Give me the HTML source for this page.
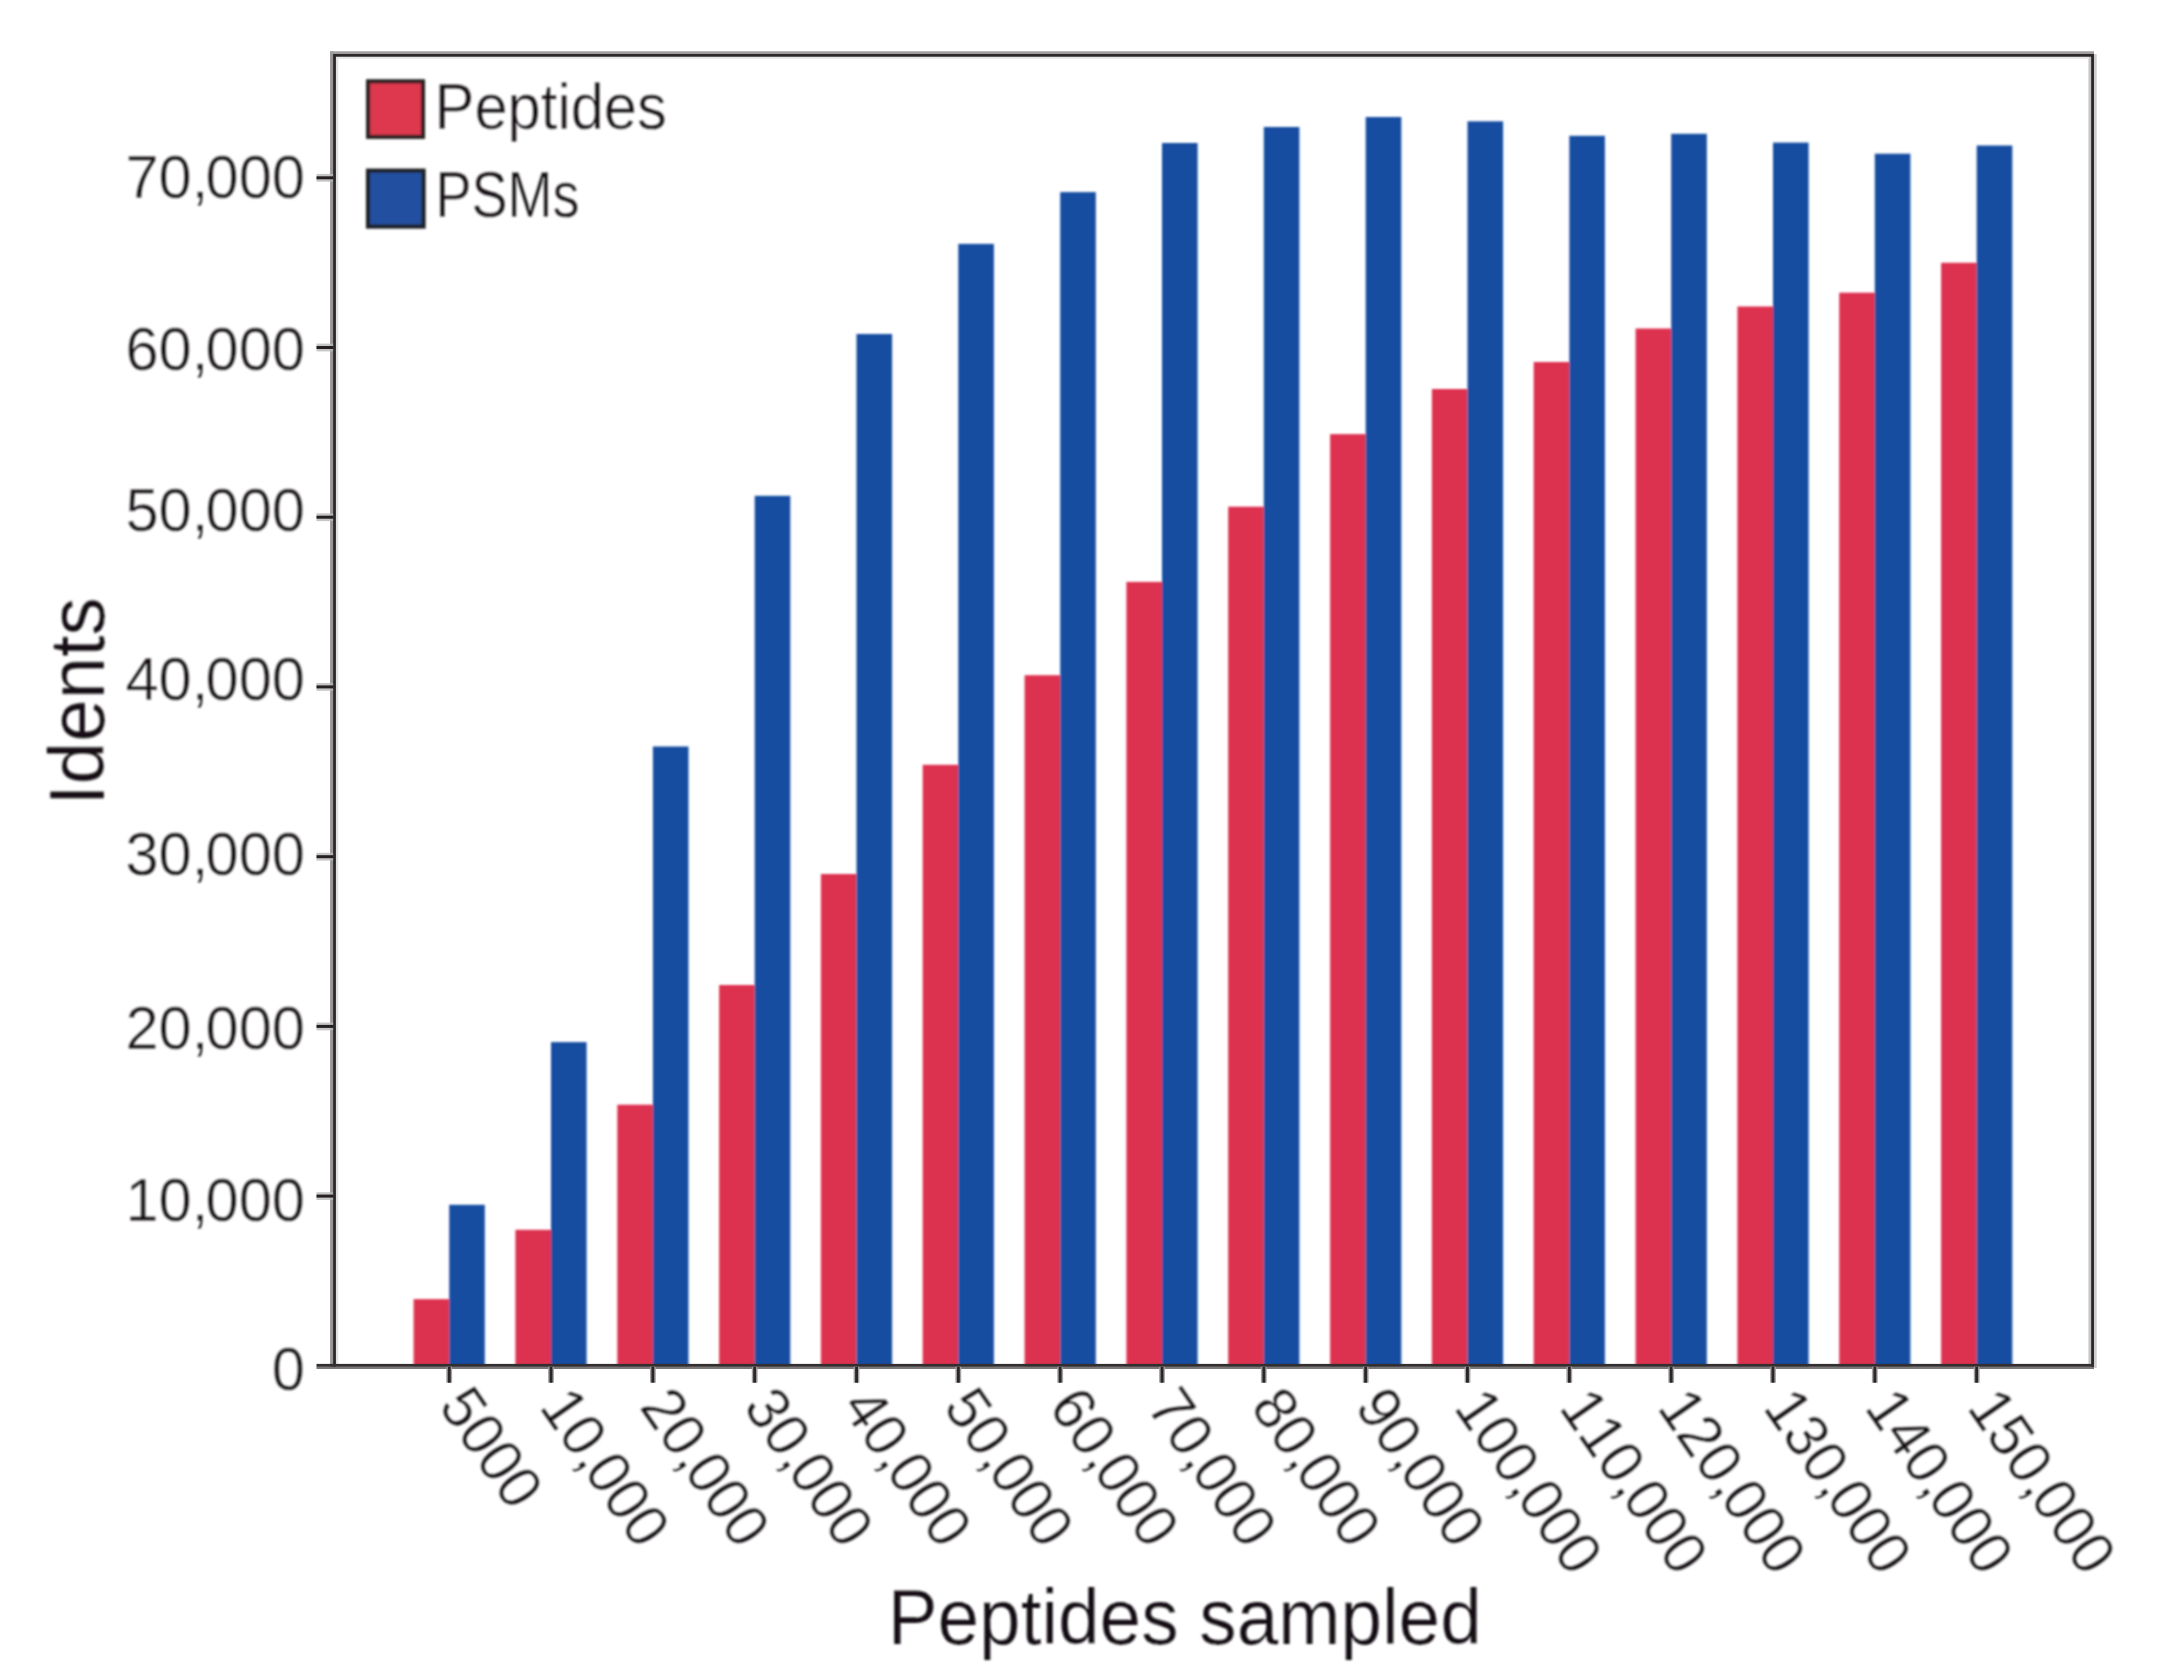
<!DOCTYPE html>
<html><head><meta charset="utf-8"><title>Peptides sampled</title>
<style>
html,body{margin:0;padding:0;background:#fff;}
svg{display:block;}
text{font-family:"Liberation Sans",sans-serif;fill:#151112;font-kerning:none;}
.t{stroke:#fff;stroke-width:0.4px;}
.u{stroke:#fff;stroke-width:0.2px;}
</style></head><body>
<svg width="2182" height="1676" viewBox="0 0 2182 1676">
<defs>
<filter id="soft" filterUnits="userSpaceOnUse" x="0" y="0" width="2182" height="1676"><feGaussianBlur stdDeviation="0.9"/></filter>
</defs>
<rect width="2182" height="1676" fill="#fff"/>
<g id="bars" filter="url(#soft)">
<rect x="413.6" y="1299.1" width="35.6" height="66.9" fill="#dd334f"/>
<rect x="449.2" y="1204.8" width="35.6" height="161.2" fill="#174ea1"/>
<rect x="515.4" y="1229.8" width="35.6" height="136.2" fill="#dd334f"/>
<rect x="551.0" y="1042.1" width="35.6" height="323.9" fill="#174ea1"/>
<rect x="617.3" y="1104.7" width="35.6" height="261.3" fill="#dd334f"/>
<rect x="652.9" y="746.5" width="35.6" height="619.5" fill="#174ea1"/>
<rect x="719.1" y="985.0" width="35.6" height="381.0" fill="#dd334f"/>
<rect x="754.7" y="495.8" width="35.6" height="870.2" fill="#174ea1"/>
<rect x="820.9" y="874.0" width="35.6" height="492.0" fill="#dd334f"/>
<rect x="856.5" y="334.0" width="35.6" height="1032.0" fill="#174ea1"/>
<rect x="922.7" y="764.8" width="35.6" height="601.2" fill="#dd334f"/>
<rect x="958.3" y="243.9" width="35.6" height="1122.1" fill="#174ea1"/>
<rect x="1024.6" y="675.2" width="35.6" height="690.8" fill="#dd334f"/>
<rect x="1060.2" y="192.1" width="35.6" height="1173.9" fill="#174ea1"/>
<rect x="1126.4" y="581.9" width="35.6" height="784.1" fill="#dd334f"/>
<rect x="1162.0" y="143.0" width="35.6" height="1223.0" fill="#174ea1"/>
<rect x="1228.2" y="506.7" width="35.6" height="859.3" fill="#dd334f"/>
<rect x="1263.8" y="127.0" width="35.6" height="1239.0" fill="#174ea1"/>
<rect x="1330.1" y="434.1" width="35.6" height="931.9" fill="#dd334f"/>
<rect x="1365.7" y="117.0" width="35.6" height="1249.0" fill="#174ea1"/>
<rect x="1431.9" y="389.0" width="35.6" height="977.0" fill="#dd334f"/>
<rect x="1467.5" y="121.3" width="35.6" height="1244.7" fill="#174ea1"/>
<rect x="1533.7" y="362.0" width="35.6" height="1004.0" fill="#dd334f"/>
<rect x="1569.3" y="135.8" width="35.6" height="1230.2" fill="#174ea1"/>
<rect x="1635.6" y="328.5" width="35.6" height="1037.5" fill="#dd334f"/>
<rect x="1671.2" y="133.8" width="35.6" height="1232.2" fill="#174ea1"/>
<rect x="1737.4" y="306.5" width="35.6" height="1059.5" fill="#dd334f"/>
<rect x="1773.0" y="142.6" width="35.6" height="1223.4" fill="#174ea1"/>
<rect x="1839.2" y="292.7" width="35.6" height="1073.3" fill="#dd334f"/>
<rect x="1874.8" y="153.7" width="35.6" height="1212.3" fill="#174ea1"/>
<rect x="1941.1" y="262.8" width="35.6" height="1103.2" fill="#dd334f"/>
<rect x="1976.7" y="145.5" width="35.6" height="1220.5" fill="#174ea1"/>
<rect x="368.1" y="81.3" width="54.9" height="55.6" fill="#dd394e" stroke="#2a2224" stroke-width="4.1"/>
<rect x="368" y="170.6" width="55.6" height="56" fill="#23509f" stroke="#1f2026" stroke-width="4.1"/>
</g>
<g id="axes">
<rect x="330.1" y="51.3" width="3.0" height="1317.6" fill="#969494"/>
<rect x="330.1" y="51.3" width="1763.9" height="2.7" fill="#9f9d9d"/>
<rect x="316.5" y="1366.8" width="1777.5" height="2.2" fill="#7a7877"/>
<rect x="2088.5" y="56.6" width="2.6" height="1307.3" fill="#c4c4c4"/>
<rect x="2094" y="54" width="2.7" height="1314" fill="#cfcdce"/>
<rect x="335.85" y="56.6" width="2.4" height="1307.3" fill="#e2e2e2"/>
<rect x="335.85" y="56.6" width="1752.6" height="2.4" fill="#e8e8e8"/>
<path d="M334.5 1366.8 V55.3 H2092.55 V1366.8" fill="none" stroke="#2b2728" stroke-width="2.85" stroke-linejoin="miter"/>
<rect x="316.5" y="1363.9" width="1777.5" height="2.9" fill="#332f30"/>
<rect x="316.5" y="1192.2" width="16.6" height="7.8" fill="#b9b8b8" opacity="0.8"/>
<rect x="316.5" y="1194.6" width="17" height="3.0" fill="#242021"/>
<rect x="316.5" y="1022.5" width="16.6" height="7.8" fill="#b9b8b8" opacity="0.8"/>
<rect x="316.5" y="1024.9" width="17" height="3.0" fill="#242021"/>
<rect x="316.5" y="852.8" width="16.6" height="7.8" fill="#b9b8b8" opacity="0.8"/>
<rect x="316.5" y="855.2" width="17" height="3.0" fill="#242021"/>
<rect x="316.5" y="683.0" width="16.6" height="7.8" fill="#b9b8b8" opacity="0.8"/>
<rect x="316.5" y="685.4" width="17" height="3.0" fill="#242021"/>
<rect x="316.5" y="513.3" width="16.6" height="7.8" fill="#b9b8b8" opacity="0.8"/>
<rect x="316.5" y="515.7" width="17" height="3.0" fill="#242021"/>
<rect x="316.5" y="343.6" width="16.6" height="7.8" fill="#b9b8b8" opacity="0.8"/>
<rect x="316.5" y="346.0" width="17" height="3.0" fill="#242021"/>
<rect x="316.5" y="173.9" width="16.6" height="7.8" fill="#b9b8b8" opacity="0.8"/>
<rect x="316.5" y="176.3" width="17" height="3.0" fill="#242021"/>
<rect x="446.3" y="1366.8" width="5.8" height="15.9" fill="#a3a1a1"/>
<rect x="447.8" y="1366.8" width="2.9" height="15.9" fill="#2a2627"/>
<rect x="548.1" y="1366.8" width="5.8" height="15.9" fill="#a3a1a1"/>
<rect x="549.6" y="1366.8" width="2.9" height="15.9" fill="#2a2627"/>
<rect x="650.0" y="1366.8" width="5.8" height="15.9" fill="#a3a1a1"/>
<rect x="651.4" y="1366.8" width="2.9" height="15.9" fill="#2a2627"/>
<rect x="751.8" y="1366.8" width="5.8" height="15.9" fill="#a3a1a1"/>
<rect x="753.2" y="1366.8" width="2.9" height="15.9" fill="#2a2627"/>
<rect x="853.6" y="1366.8" width="5.8" height="15.9" fill="#a3a1a1"/>
<rect x="855.1" y="1366.8" width="2.9" height="15.9" fill="#2a2627"/>
<rect x="955.4" y="1366.8" width="5.8" height="15.9" fill="#a3a1a1"/>
<rect x="956.9" y="1366.8" width="2.9" height="15.9" fill="#2a2627"/>
<rect x="1057.3" y="1366.8" width="5.8" height="15.9" fill="#a3a1a1"/>
<rect x="1058.7" y="1366.8" width="2.9" height="15.9" fill="#2a2627"/>
<rect x="1159.1" y="1366.8" width="5.8" height="15.9" fill="#a3a1a1"/>
<rect x="1160.6" y="1366.8" width="2.9" height="15.9" fill="#2a2627"/>
<rect x="1260.9" y="1366.8" width="5.8" height="15.9" fill="#a3a1a1"/>
<rect x="1262.4" y="1366.8" width="2.9" height="15.9" fill="#2a2627"/>
<rect x="1362.8" y="1366.8" width="5.8" height="15.9" fill="#a3a1a1"/>
<rect x="1364.2" y="1366.8" width="2.9" height="15.9" fill="#2a2627"/>
<rect x="1464.6" y="1366.8" width="5.8" height="15.9" fill="#a3a1a1"/>
<rect x="1466.0" y="1366.8" width="2.9" height="15.9" fill="#2a2627"/>
<rect x="1566.4" y="1366.8" width="5.8" height="15.9" fill="#a3a1a1"/>
<rect x="1567.9" y="1366.8" width="2.9" height="15.9" fill="#2a2627"/>
<rect x="1668.3" y="1366.8" width="5.8" height="15.9" fill="#a3a1a1"/>
<rect x="1669.7" y="1366.8" width="2.9" height="15.9" fill="#2a2627"/>
<rect x="1770.1" y="1366.8" width="5.8" height="15.9" fill="#a3a1a1"/>
<rect x="1771.5" y="1366.8" width="2.9" height="15.9" fill="#2a2627"/>
<rect x="1871.9" y="1366.8" width="5.8" height="15.9" fill="#a3a1a1"/>
<rect x="1873.4" y="1366.8" width="2.9" height="15.9" fill="#2a2627"/>
<rect x="1973.8" y="1366.8" width="5.8" height="15.9" fill="#a3a1a1"/>
<rect x="1975.2" y="1366.8" width="2.9" height="15.9" fill="#2a2627"/>
</g>
<g id="labels" filter="url(#soft)">
<text class="t" transform="translate(305 1389.7) scale(0.978 1)" font-size="61" text-anchor="end">0</text>
<text class="t" transform="translate(305 1221.3) scale(0.978 1)" font-size="61" text-anchor="end" dx="0 0 0 -3 0 0">10,000</text>
<text class="t" transform="translate(305 1048.9) scale(0.978 1)" font-size="61" text-anchor="end" dx="0 0 0 -3 0 0">20,000</text>
<text class="t" transform="translate(305 874.7) scale(0.978 1)" font-size="61" text-anchor="end" dx="0 0 0 -3 0 0">30,000</text>
<text class="t" transform="translate(305 700.0) scale(0.978 1)" font-size="61" text-anchor="end" dx="0 0 0 -3 0 0">40,000</text>
<text class="t" transform="translate(305 530.5) scale(0.978 1)" font-size="61" text-anchor="end" dx="0 0 0 -3 0 0">50,000</text>
<text class="t" transform="translate(305 369.6) scale(0.978 1)" font-size="61" text-anchor="end" dx="0 0 0 -3 0 0">60,000</text>
<text class="t" transform="translate(305 197.6) scale(0.978 1)" font-size="61" text-anchor="end" dx="0 0 0 -3 0 0">70,000</text>
<text class="t" transform="translate(437.5 1406.1) rotate(55.4) scale(0.955 1)" font-size="61">5000</text>
<text class="t" transform="translate(538.3 1406.8) rotate(55.4) scale(0.955 1)" font-size="61" dx="0 0 0 -3 0 0">10,000</text>
<text class="t" transform="translate(638.4 1406.8) rotate(55.4) scale(0.955 1)" font-size="61" dx="0 0 0 -3 0 0">20,000</text>
<text class="t" transform="translate(742.2 1406.8) rotate(55.4) scale(0.955 1)" font-size="61" dx="0 0 0 -3 0 0">30,000</text>
<text class="t" transform="translate(840.3 1406.8) rotate(55.4) scale(0.955 1)" font-size="61" dx="0 0 0 -3 0 0">40,000</text>
<text class="t" transform="translate(942.3 1406.8) rotate(55.4) scale(0.955 1)" font-size="61" dx="0 0 0 -3 0 0">50,000</text>
<text class="t" transform="translate(1047.6 1406.8) rotate(55.4) scale(0.955 1)" font-size="61" dx="0 0 0 -3 0 0">60,000</text>
<text class="t" transform="translate(1145.4 1406.8) rotate(55.4) scale(0.955 1)" font-size="61" dx="0 0 0 -3 0 0">70,000</text>
<text class="t" transform="translate(1249.4 1406.8) rotate(55.4) scale(0.955 1)" font-size="61" dx="0 0 0 -3 0 0">80,000</text>
<text class="t" transform="translate(1353.7 1406.8) rotate(55.4) scale(0.955 1)" font-size="61" dx="0 0 0 -3 0 0">90,000</text>
<text class="t" transform="translate(1452.7 1407.4) rotate(55.4) scale(0.955 1)" font-size="61" dx="0 0 0 0 -3 0 0">100,000</text>
<text class="t" transform="translate(1558.1 1407.4) rotate(55.4) scale(0.955 1)" font-size="61" dx="0 0 0 0 -3 0 0">110,000</text>
<text class="t" transform="translate(1656.2 1407.4) rotate(55.4) scale(0.955 1)" font-size="61" dx="0 0 0 0 -3 0 0">120,000</text>
<text class="t" transform="translate(1762.0 1407.4) rotate(55.4) scale(0.955 1)" font-size="61" dx="0 0 0 0 -3 0 0">130,000</text>
<text class="t" transform="translate(1863.6 1407.4) rotate(55.4) scale(0.955 1)" font-size="61" dx="0 0 0 0 -3 0 0">140,000</text>
<text class="t" transform="translate(1966.1 1407.4) rotate(55.4) scale(0.955 1)" font-size="61" dx="0 0 0 0 -3 0 0">150,000</text>
<text class="t" transform="translate(434.6 128.9) scale(0.933 1)" font-size="64">Peptides</text>
<text class="t" transform="translate(435.4 217.4) scale(0.8446 1)" font-size="64">PSMs</text>
<text class="u" transform="translate(887.7 1644.2) scale(0.967 1)" font-size="77.3">Peptides sampled</text>
<text class="u" transform="translate(103.8 805.6) rotate(-90) scale(0.9885 1)" font-size="77.3">Idents</text>
</g>
</svg></body></html>
